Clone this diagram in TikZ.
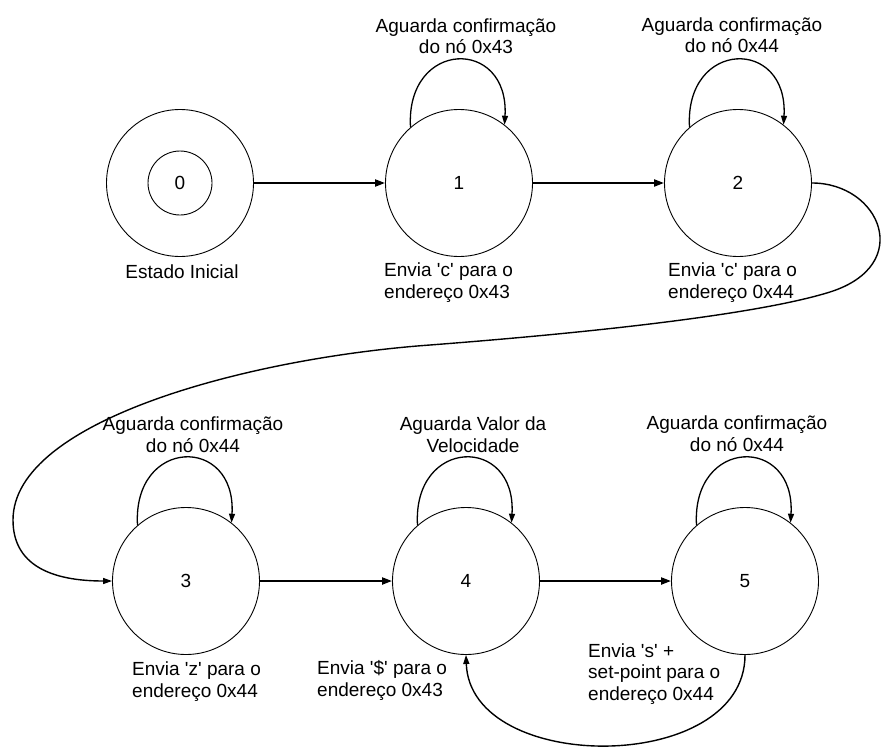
\documentclass[tikz,border=0pt]{standalone}
\usepackage{fontspec}
\setmainfont{Liberation Sans}
\usetikzlibrary{arrows.meta}
\newcommand\lblfont{\fontsize{19}{21.5}\selectfont}
\newcommand\sq{\textquotesingle}
\begin{document}
\begin{tikzpicture}[x=1pt,y=-1pt,
  state/.style={circle,draw,line width=0.9pt,minimum size=147pt,inner sep=0pt,font=\lblfont},
  inner state/.style={circle,draw,line width=0.9pt,minimum size=64pt,inner sep=0pt,font=\lblfont},
  toplbl/.style={align=center,anchor=base,inner sep=0pt,font=\lblfont},
  botlbl/.style={align=left,anchor=base west,inner sep=0pt,font=\lblfont},
  trans/.style={line width=2pt,-{Triangle[length=10pt,width=7pt]}},
  selfloop/.style={line width=1.3pt,-{Triangle[length=9pt,width=6pt]}},
  curved/.style={line width=1.4pt,-{Triangle[length=9pt,width=6pt]}}]
\useasboundingbox (0,0) rectangle (882,749);

% states
\node[state] (s0) at (180,183) {};
\node[inner state] (s0in) at (180,183) {0};
\node[state] (s1) at (459,183) {1};
\node[state] (s2) at (738,183) {2};
\node[state] (s3) at (186,581) {3};
\node[state] (s4) at (466,581) {4};
\node[state] (s5) at (745,581) {5};

% labels above the states (positioned on the baseline of their last line)
\node[toplbl] (t1) at (466,54) {Aguarda confirmação\\do nó 0x43};
\node[toplbl] (t2) at (732,53) {Aguarda confirmação\\do nó 0x44};
\node[toplbl] (t3) at (193,452) {Aguarda confirmação\\do nó 0x44};
\node[toplbl] (t4) at (473,452) {Aguarda Valor da\\Velocidade};
\node[toplbl] (t5) at (737,451) {Aguarda confirmação\\do nó 0x44};

% labels below the states
\node[toplbl] (init) at (182,278) {Estado Inicial};
\node[botlbl] (b1) at (384,298) {Envia \sq c\sq{} para o\\endereço 0x43};
\node[botlbl] (b2) at (668,298) {Envia \sq c\sq{} para o\\endereço 0x44};
\node[botlbl] (b3) at (132,697) {Envia \sq z\sq{} para o\\endereço 0x44};
\node[botlbl] (b4) at (317,696) {Envia \sq\$\sq{} para o\\endereço 0x43};
\node[botlbl] (b5) at (588,700) {Envia \sq s\sq{} +\\set-point para o\\endereço 0x44};

% straight transitions
\draw[trans] (s0) -- (s1);
\draw[trans] (s1) -- (s2);
\draw[trans] (s3) -- (s4);
\draw[trans] (s4) -- (s5);

% self loops
\foreach \s in {s1,s2,s3,s4,s5}
  \draw[selfloop] (\s.131) .. controls +(-5,-88) and +(5,-88) .. (\s.52);

% long transition from state 2 to state 3
\draw[curved] (s2.east) .. controls (880,183) and (915,265) .. (830,292)
  .. controls (750,317) and (560,335) .. (430,345)
  .. controls (250,358) and (13,420) .. (13,520)
  .. controls (13,570) and (60,581) .. (s3.west);

% return transition from state 5 to state 4
\draw[curved] (s5.south) .. controls (745,775) and (470,775) .. (s4.south);
\end{tikzpicture}
\end{document}
